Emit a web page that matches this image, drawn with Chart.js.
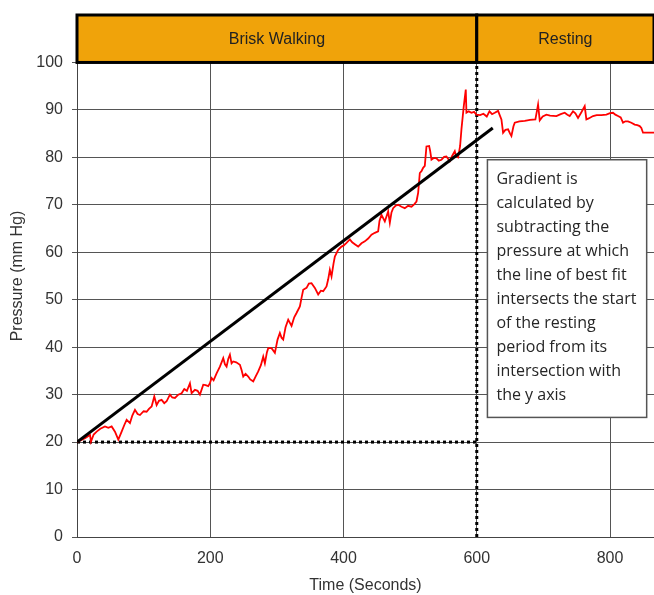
<!DOCTYPE html>
<html>
<head>
<meta charset="utf-8">
<script src="https://cdn.jsdelivr.net/npm/chart.js@4"></script>
<style>
  html, body { margin: 0; padding: 0; background: #fff; overflow: hidden; }
  #wrap { width: 654px; height: 595px; position: relative; }
</style>
</head>
<body>
<div id="wrap"><canvas id="pressureChart"></canvas></div>
<script>
// time (s) and pressure (mm Hg)
const timeSec = [
  0, 6, 12, 16, 19.5, 21, 25, 29.5, 35, 42, 47, 52, 57, 62, 67, 71, 74.5, 79.5, 83, 87,
  91, 94.5, 100, 104.5, 108, 112, 116, 119.5, 123, 127, 131, 134.5, 139.5, 143, 147, 152, 157, 161, 165, 169.5,
  172, 177, 181, 184.5, 189.5, 193, 197, 199.5, 202, 205, 209.5, 214.5, 219.5, 222, 224.5, 227, 229.5, 232, 234.5, 239,
  244.5, 247, 249.5, 253, 257, 260, 264.5, 268, 272, 276, 279.5, 282, 285, 287, 292, 297, 301, 304.5, 307, 309.5,
  313, 317, 322, 326, 329.5, 334.5, 337, 339.5, 344.5, 348, 352, 357, 362, 366, 369.5, 374.5, 377, 379.5, 382, 385,
  387, 392, 397, 400, 404.5, 409.5, 413, 418, 422, 427, 432, 437, 442, 447, 452, 454, 457, 462, 467, 469.5,
  472, 474.5, 478, 482, 487, 492, 497, 502, 506, 509.5, 512, 514.5, 517, 519.5, 522, 524.5, 528.5, 530, 532, 536,
  539.5, 543, 547, 551, 554.5, 559.5, 563, 567, 569, 572, 575, 577, 580.5, 583.5, 584.5, 588, 592, 596, 599.5, 605,
  610, 615, 619, 623, 627, 632, 635, 637, 639.5, 643, 647, 650, 652, 655, 657, 664, 672, 680, 688, 692,
  694.5, 699, 704.5, 710, 719.5, 726, 732, 736, 739.5, 744.5, 748, 752, 757, 762, 764.5, 768, 774.5, 780, 787, 794.5,
  800, 804.5, 808, 812, 816, 819.5, 823, 827, 832, 837, 841, 844.5, 847, 849.5, 855, 866
];
const pressure = [
  20, 20.4, 20.8, 21.2, 21.5, 20.1, 21.6, 22.2, 22.8, 23.3, 23, 23.3, 22.2, 20.5, 22.2, 23.6, 24.7, 24, 25.6, 26.8,
  25.9, 25.7, 26.5, 26.4, 27, 27.5, 29.6, 27.8, 28.7, 28.9, 28.2, 28.6, 30, 29.4, 29.3, 30, 30.3, 31.2, 30.8, 32.4,
  30.3, 31, 30.8, 30, 32.1, 32, 31.8, 32.4, 33.5, 33, 34.5, 35.9, 37.7, 36.4, 35.9, 37.5, 38.4, 36.6, 37, 36.8,
  36.3, 35.2, 33.8, 34.4, 33.8, 33.2, 32.8, 33.8, 34.9, 36.2, 38, 36.6, 38.9, 39.8, 39.8, 38.8, 41.6, 43, 42, 41.6,
  44.2, 45.8, 44.5, 46.3, 47.2, 48.6, 50.4, 52.1, 52.5, 53.4, 53.5, 52.5, 51.1, 51.9, 51.8, 52.8, 54.3, 56.3, 54.9, 57.6,
  59.1, 60.5, 61.2, 61.4, 62, 62.7, 62.1, 61.6, 61.2, 61.9, 62.3, 62.9, 63.7, 64.1, 64.4, 66.6, 67.9, 66.5, 68.6, 66.2,
  68.4, 69.3, 69.8, 70, 69.6, 69.3, 69.8, 69.6, 70.1, 70.7, 72.5, 76.7, 77.1, 77.8, 78.2, 82.3, 82.4, 81.4, 79.5, 79.9,
  79.8, 79.3, 79.5, 80.1, 80.2, 79.2, 80.3, 81.3, 80.2, 80, 82.4, 85.9, 90.8, 94.3, 89.4, 89.7, 89.4, 89.6, 89, 88.9,
  89.2, 88.6, 89.7, 89.1, 89.4, 89.8, 88.7, 88, 85.2, 85.8, 85.9, 85, 84.5, 86.5, 87.3, 87.6, 87.7, 87.9, 88, 91.1,
  87.8, 88.6, 89, 88.8, 88.7, 89.1, 89.4, 89, 88.7, 89.7, 89.3, 88.3, 89.5, 90.8, 88, 88.2, 88.7, 88.9, 88.9, 89,
  89.3, 89.4, 89, 88.7, 88.4, 87.3, 87.6, 87.6, 87.3, 86.9, 86.8, 86.6, 86.2, 85.2, 85.2, 85.2
];

// line of best fit and guide lines
const fitX = [0, 624];
const fitY = [20, 86.2];
const guideVX = [600, 600];
const guideVY = [0, 100];
const guideHX = [0, 600];
const guideHY = [20, 20];

// phases and note
const phaseNames = ['Brisk Walking', 'Resting'];
const phaseBounds = [0, 600, 866];
const noteLines = [
  'Gradient is', 'calculated by', 'subtracting the', 'pressure at which',
  'the line of best fit', 'intersects the start', 'of the resting',
  'period from its', 'intersection with', 'the y axis'
];

function toPoints(xs, ys) {
  return xs.map((x, i) => ({ x: x, y: ys[i] }));
}

document.addEventListener('DOMContentLoaded', function() {
  const canvas = document.getElementById('pressureChart');
  canvas.width = 654;
  canvas.height = 595;

  // white note box with text (after the lines)
  const notePlugin = {
    id: 'notePlugin',
    afterDatasetsDraw(chart) {
      const ctx = chart.ctx;
      const xs = chart.scales.x, ys = chart.scales.y;
      const left = xs.getPixelForValue(616), right = xs.getPixelForValue(855);
      const top = ys.getPixelForValue(79.5), bottom = ys.getPixelForValue(25.2);
      ctx.save();
      ctx.fillStyle = '#fff';
      ctx.fillRect(left, top, right - left, bottom - top);
      ctx.strokeStyle = '#555';
      ctx.lineWidth = 1.5;
      ctx.strokeRect(left, top, right - left, bottom - top);
      ctx.fillStyle = '#262626';
      ctx.font = '16px "Open Sans"';
      ctx.textBaseline = 'alphabetic';
      noteLines.forEach((t, i) => ctx.fillText(t, left + 9, top + 24 + i * 24));
      ctx.restore();
    }
  };

  // orange phase band above the plot
  const phasePlugin = {
    id: 'phasePlugin',
    afterDraw(chart) {
      const ctx = chart.ctx;
      const xs = chart.scales.x, ys = chart.scales.y;
      const top = ys.getPixelForValue(110), bottom = ys.getPixelForValue(100);
      ctx.save();
      for (let i = 0; i < phaseNames.length; i++) {
        const l = xs.getPixelForValue(phaseBounds[i]);
        const r = xs.getPixelForValue(phaseBounds[i + 1]);
        ctx.fillStyle = '#F0A30A';
        ctx.fillRect(l, top, r - l, bottom - top);
        ctx.strokeStyle = '#000';
        ctx.lineWidth = 3;
        ctx.strokeRect(l, top, r - l, bottom - top);
        ctx.fillStyle = '#222';
        ctx.font = '16px "Liberation Sans", Arial';
        ctx.textAlign = 'center';
        ctx.textBaseline = 'middle';
        ctx.fillText(phaseNames[i], (l + r) / 2, (top + bottom) / 2 + 1);
      }
      ctx.restore();
    }
  };

  new Chart(canvas.getContext('2d'), {
    type: 'line',
    data: {
      datasets: [
        {
          data: toPoints(guideVX, guideVY),
          borderColor: '#000', borderWidth: 3, borderDash: [3, 3],
          pointRadius: 0, order: 4
        },
        {
          data: toPoints(guideHX, guideHY),
          borderColor: '#000', borderWidth: 3, borderDash: [3, 3],
          pointRadius: 0, order: 3
        },
        {
          label: 'Pressure',
          data: toPoints(timeSec, pressure),
          borderColor: '#ff0000', borderWidth: 1.8,
          pointRadius: 0, tension: 0, order: 2
        },
        {
          data: toPoints(fitX, fitY),
          borderColor: '#000', borderWidth: 3,
          pointRadius: 0, order: 1
        }
      ]
    },
    options: {
      responsive: false,
      animation: false,
      layout: { padding: { top: 15, right: 0, left: 0, bottom: 0 } },
      plugins: {
        legend: { display: false },
        tooltip: { enabled: false }
      },
      scales: {
        x: {
          type: 'linear',
          min: 0,
          max: 866,
          afterFit: s => { s.height = 58; s.paddingLeft = 0; s.paddingRight = 0; },
          border: { color: '#444', width: 1 },
          grid: { color: '#555', lineWidth: 1, drawTicks: false },
          ticks: {
            stepSize: 200, includeBounds: false, padding: 12,
            color: '#333', font: { family: '"Liberation Sans", Arial', size: 16 }
          },
          title: {
            display: true, text: 'Time (Seconds)', color: '#333',
            padding: { top: 0, bottom: 0 },
            font: { family: '"Liberation Sans", Arial', size: 16 }
          }
        },
        y: {
          min: 0,
          max: 110,
          afterFit: s => { s.width = 77; s.paddingTop = 0; s.paddingBottom = 0; },
          border: { color: '#444', width: 1 },
          grid: {
            lineWidth: 1, tickLength: 5,
            color: c => (c.tick && c.tick.value > 100 ? 'rgba(0,0,0,0)' : '#555')
          },
          ticks: {
            stepSize: 10, includeBounds: false, padding: 9,
            color: '#333', font: { family: '"Liberation Sans", Arial', size: 16 },
            callback: v => (v > 100 ? '' : v)
          },
          title: {
            display: true, text: 'Pressure (mm Hg)', color: '#333',
            padding: { top: 8, bottom: 0 },
            font: { family: '"Liberation Sans", Arial', size: 16 }
          }
        }
      }
    },
    plugins: [notePlugin, phasePlugin]
  });
});
</script>
</body>
</html>
